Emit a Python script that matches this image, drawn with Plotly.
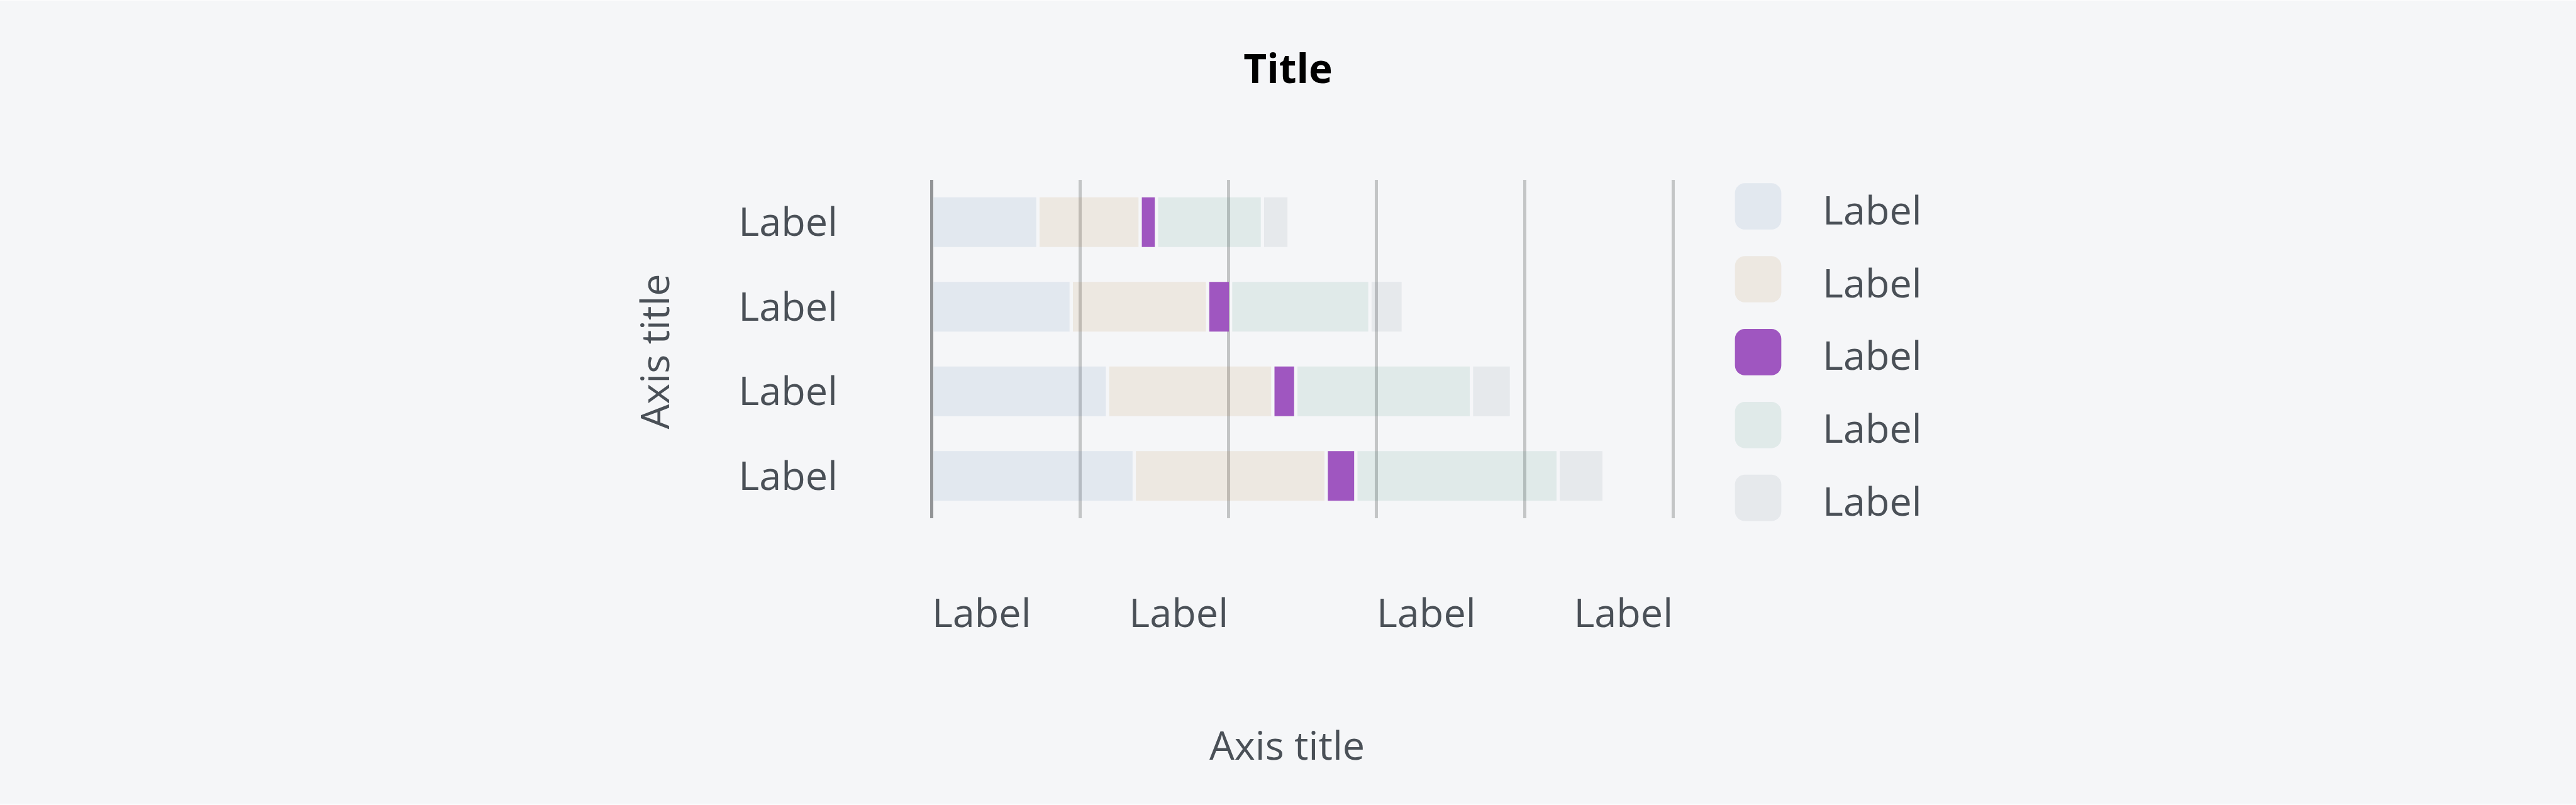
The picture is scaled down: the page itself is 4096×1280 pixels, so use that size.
import plotly.graph_objects as go

# ---------------- data ----------------
categories = ["Label", "Label", "Label", "Label"]          # top to bottom
series_names = ["Label", "Label", "Label", "Label", "Label"]
series_1 = [14.3, 18.8, 23.7, 27.3]
series_2 = [13.8, 18.4, 22.3, 25.9]
series_3 = [2.2, 3.1, 3.1, 4.0]
series_4 = [14.3, 18.8, 23.7, 27.3]
series_5 = [3.6, 4.5, 5.4, 6.2]
x_tick_positions = [6.7, 33.3, 66.7, 93.3]
x_tick_labels = ["Label", "Label", "Label", "Label"]
grid_values = [0, 20, 40, 60, 80, 100]

# ---------------- styles ----------------
W, H = 4096, 1280
BG_PAGE = "#fbfbfc"
BG_CARD = "#f5f6f8"
TEXT = "#4a5057"
FONT = "Open Sans"
colors = [
    "rgba(55,106,168,0.1)",
    "rgba(165,106,28,0.1)",
    "rgb(159,86,192)",
    "rgba(35,126,108,0.1)",
    "rgba(95,116,138,0.1)",
]
GRID_COLOR = "#c3c5c6"
AXIS_COLOR = "#929496"
LINE_W = 5.3
GAP = 0.45          # visual gap between stacked segments (data units)
BAR_W = 0.588

L, R, T, B = 1470.2, 1423.9, 286.4, 456.0
plotW = W - L - R
plotH = H - T - B


def px_to_paper(px, py):
    return (px - L) / plotW, (H - B - py) / plotH


all_series = [series_1, series_2, series_3, series_4, series_5]
ypos = list(range(len(categories)))

fig = go.Figure()
starts = [0.0] * len(categories)
for name, vals, col in zip(series_names, all_series, colors):
    fig.add_trace(go.Bar(
        orientation="h",
        y=ypos,
        x=[v - GAP for v in vals],
        base=[s + GAP / 2 for s in starts],
        width=BAR_W,
        name=name,
        marker=dict(color=col, line=dict(width=0)),
        showlegend=False,
        hoverinfo="skip",
    ))
    starts = [s + v for s, v in zip(starts, vals)]

# ---------------- card background ----------------
shapes = []
cx0, cy0 = px_to_paper(0, 2.6)
cx1, cy1 = px_to_paper(W, H - 2.6)
shapes.append(dict(type="rect", xref="paper", yref="paper",
                   x0=cx0, x1=cx1, y0=cy1, y1=cy0,
                   fillcolor=BG_CARD, line=dict(width=0), layer="below"))

# ---------------- custom legend ----------------
annotations = []
sw = 73.7
rad = 15.8
leg_x_center = 2795.6
leg_y0 = 328.5
leg_step = 115.8
text_x = 2896.0
h = sw / 2
k = rad * 0.5523
path = (
    f"M {-h + rad},{-h} L {h - rad},{-h} "
    f"C {h - rad + k},{-h} {h},{-h + rad - k} {h},{-h + rad} "
    f"L {h},{h - rad} "
    f"C {h},{h - rad + k} {h - rad + k},{h} {h - rad},{h} "
    f"L {-h + rad},{h} "
    f"C {-h + rad - k},{h} {-h},{h - rad + k} {-h},{h - rad} "
    f"L {-h},{-h + rad} "
    f"C {-h},{-h + rad - k} {-h + rad - k},{-h} {-h + rad},{-h} Z"
)
for i, (name, col) in enumerate(zip(series_names, colors)):
    cy = leg_y0 + i * leg_step
    ax_, ay_ = px_to_paper(leg_x_center, cy)
    shapes.append(dict(type="path", xref="paper", yref="paper",
                       xsizemode="pixel", ysizemode="pixel",
                       xanchor=ax_, yanchor=ay_, path=path,
                       fillcolor=col, line=dict(width=0), layer="above"))
    tx, ty = px_to_paper(text_x, cy + 4)
    annotations.append(dict(text=name, xref="paper", yref="paper",
                            x=tx, y=ty, xanchor="left", yanchor="middle",
                            showarrow=False,
                            font=dict(family=FONT, size=63, color=TEXT)))

# ---------------- axis titles ----------------
ax_x, ax_y = px_to_paper(2046.4, 1183.0)
annotations.append(dict(text="Axis title", xref="paper", yref="paper",
                        x=ax_x, y=ax_y, xanchor="center", yanchor="middle",
                        showarrow=False,
                        font=dict(family=FONT, size=63, color=TEXT)))
ay_x, ay_y = px_to_paper(1039.8, 559.1)
annotations.append(dict(text="Axis title", xref="paper", yref="paper",
                        x=ay_x, y=ay_y, xanchor="center", yanchor="middle",
                        textangle=-90, showarrow=False,
                        font=dict(family=FONT, size=63, color=TEXT)))

fig.update_layout(
    width=W, height=H,
    margin=dict(l=L, r=R, t=T, b=B, autoexpand=False),
    paper_bgcolor=BG_PAGE,
    plot_bgcolor="rgba(0,0,0,0)",
    barmode="overlay",
    showlegend=False,
    title=dict(text="Title", x=0.5, xref="container", xanchor="center",
               y=1 - 109.5 / H, yref="container", yanchor="middle",
               font=dict(family=FONT, size=64, color="#000000", weight=700)),
    xaxis=dict(
        range=[-1, 101],
        tickmode="array", tickvals=x_tick_positions, ticktext=x_tick_labels,
        ticks="", showgrid=False,
        tickfont=dict(family=FONT, size=63, color=TEXT),
        ticklabelstandoff=109,
        zeroline=True, zerolinecolor=AXIS_COLOR, zerolinewidth=LINE_W,
        showline=False,
        minor=dict(tickmode="array", tickvals=grid_values, showgrid=True,
                   gridcolor=GRID_COLOR, gridwidth=LINE_W, ticks=""),
        fixedrange=True,
    ),
    yaxis=dict(
        range=[len(categories) - 0.5, -0.5],
        tickmode="array", tickvals=ypos, ticktext=categories,
        ticks="", showgrid=False, zeroline=False, showline=False,
        tickfont=dict(family=FONT, size=63, color=TEXT),
        ticklabelstandoff=137,
        fixedrange=True,
    ),
    shapes=shapes,
    annotations=annotations,
)

fig.write_html(
    "out.html",
    config={"displayModeBar": False},
    post_script="document.body.style.margin='0px';document.body.style.overflow='hidden';",
)
